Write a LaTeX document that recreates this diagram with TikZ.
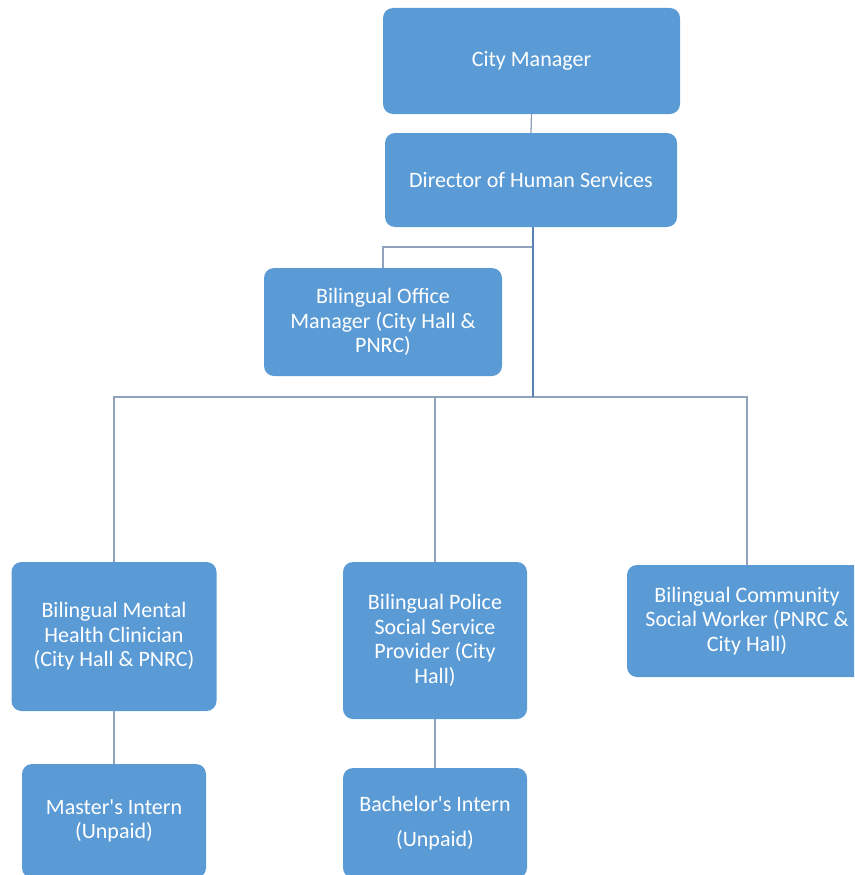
\documentclass[tikz,border=0pt]{standalone}
\usepackage{fontspec}
\setmainfont{Carlito}
\definecolor{boxblue}{HTML}{5B9BD5}
\definecolor{linkgray}{HTML}{8FA3BC}
\definecolor{trunkblue}{HTML}{5A82B4}
\begin{document}
\begin{tikzpicture}[x=1pt,y=-1pt,
  orgbox/.style={fill=boxblue, rounded corners=10pt, text=white, align=center,
    inner sep=0pt, font=\fontsize{22}{24.5}\selectfont},
  link/.style={draw=linkgray, line width=1.3pt},
  trunk/.style={draw=trunkblue, line width=2.6pt}]
\useasboundingbox (0,0) rectangle (854,875);
\clip (0,0) rectangle (854,875);
\node[orgbox, minimum width=297pt, minimum height=106pt] (cm) at (531.5,61) {City Manager};
\node[orgbox, minimum width=292pt, minimum height=94pt] (dir) at (531,180) {Director of Human Services};
\node[orgbox, minimum width=238pt, minimum height=108pt] (off) at (383,322) {Bilingual Office\\Manager (City Hall \&\\PNRC)};
\node[orgbox, minimum width=205pt, minimum height=149pt] (cli) at (114,636.5) {Bilingual Mental\\Health Clinician\\(City Hall \& PNRC)};
\node[orgbox, minimum width=184pt, minimum height=157pt] (pol) at (435,640.5) {Bilingual Police\\Social Service\\Provider (City\\Hall)};
\node[orgbox, minimum width=240pt, minimum height=112pt] (com) at (747,621) {Bilingual Community\\Social Worker (PNRC \&\\City Hall)};
\node[orgbox, minimum width=184pt, minimum height=114pt] (mas) at (114,821) {Master\textquotesingle s Intern\\(Unpaid)};
\node[orgbox, minimum width=184pt, minimum height=110pt] (bac) at (435,823) {Bachelor\textquotesingle s Intern\\[10pt](Unpaid)};
\coordinate (j1) at (533,247);
\coordinate (bus) at (533,397);
\draw[link] (cm.south) -- (dir.north);
\draw[link] (j1) -| (off.north);
\draw[link] (cli.north) |- (com.north |- bus) -- (com.north);
\draw[link] (pol.north) -- (pol.north |- bus);
\draw[trunk] (dir.south -| bus) -- (bus);
\draw[link] (cli.south) -- (mas.north);
\draw[link] (pol.south) -- (bac.north);
\end{tikzpicture}
\end{document}
